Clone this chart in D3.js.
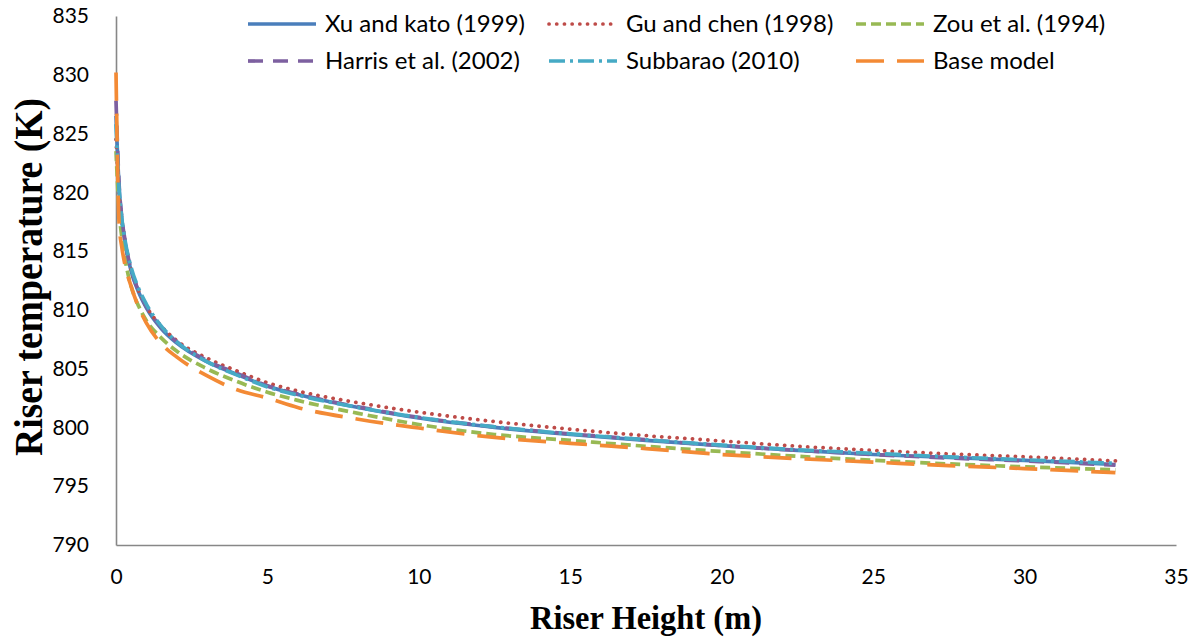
<!DOCTYPE html>
<html>
<head>
<meta charset="utf-8">
<script src="https://cdn.jsdelivr.net/npm/d3@7"></script>
<style>
  html, body { margin: 0; padding: 0; background: #fff; }
  svg { display: block; }
</style>
</head>
<body>
<svg id="chart" width="1198" height="639"></svg>
<script>
// Riser height (m) at which every model was evaluated
const heights = [0, 0.1, 0.2, 0.3, 0.5, 0.75, 1, 1.5, 2, 3, 4, 5, 6, 8, 10, 12.5, 15, 17.5, 20, 22.5, 25, 27.5, 30, 33];

// Riser temperature (K) for each correlation
const xuKato    = [826.5, 820.5, 817.5, 815.7, 813.3, 811.5, 810.2, 808.4, 807.2, 805.6, 804.5, 803.5, 802.8, 801.7, 800.8, 800.0, 799.4, 798.9, 798.45, 798.05, 797.7, 797.45, 797.2, 796.85];
const guChen    = [824.5, 820.0, 817.5, 815.8, 813.4, 811.6, 810.3, 808.6, 807.4, 805.9, 804.8, 803.8, 803.1, 802.1, 801.3, 800.5, 799.85, 799.3, 798.85, 798.4, 798.05, 797.75, 797.5, 797.15];
const zou       = [823.5, 818.5, 816.0, 814.3, 812.0, 810.3, 809.1, 807.6, 806.5, 805.0, 803.9, 803.0, 802.3, 801.2, 800.25, 799.4, 798.9, 798.4, 797.95, 797.55, 797.2, 796.9, 796.65, 796.4];
const harris    = [827.8, 820.8, 817.7, 815.9, 813.4, 811.6, 810.3, 808.5, 807.3, 805.7, 804.6, 803.55, 802.85, 801.75, 800.85, 800.05, 799.45, 798.95, 798.45, 798.05, 797.7, 797.4, 797.15, 796.8];
const subbarao  = [825.8, 820.3, 817.6, 815.9, 813.6, 811.8, 810.5, 808.6, 807.3, 805.6, 804.45, 803.45, 802.75, 801.7, 800.85, 800.05, 799.45, 798.95, 798.5, 798.1, 797.8, 797.5, 797.25, 796.95];
const baseModel = [830.2, 817.5, 815.2, 813.8, 812.0, 810.2, 808.9, 807.1, 806.0, 804.4, 803.2, 802.5, 801.7, 800.7, 799.95, 799.15, 798.65, 798.2, 797.7, 797.35, 797.05, 796.75, 796.5, 796.15];

const seriesNames = ["Xu and kato (1999)", "Gu and chen (1998)", "Zou et al. (1994)", "Harris et al. (2002)", "Subbarao (2010)", "Base model"];

const xTicks = [0, 5, 10, 15, 20, 25, 30, 35];
const yTicks = [790, 795, 800, 805, 810, 815, 820, 825, 830, 835];

// Line styling for each series (colour, dash pattern, cap)
const styles = [
  { color: "#4A7EBB", dash: null,          cap: "butt"  },
  { color: "#BE4B48", dash: "0.1 7.6",     cap: "round" },
  { color: "#98B954", dash: "10 5",        cap: "butt"  },
  { color: "#7D60A0", dash: "15 10",       cap: "butt"  },
  { color: "#46AAC5", dash: "16 5 3 5",    cap: "butt"  },
  { color: "#F38A35", dash: "28 13",       cap: "butt"  }
];

const seriesValues = [xuKato, guChen, zou, harris, subbarao, baseModel];

const svg = d3.select("#chart");
const x = d3.scaleLinear().domain([0, 35]).range([116, 1176]);
const y = d3.scaleLinear().domain([790, 835]).range([545, 16]);

const tickFont = "Lato, 'Open Sans', sans-serif";
const titleFont = "'Liberation Serif', 'Times New Roman', serif";

// Axes
const yAxis = svg.append("g")
  .attr("transform", `translate(${x(0)},0)`)
  .call(d3.axisLeft(y).tickValues(yTicks).tickSize(0).tickPadding(27).tickFormat(d3.format("d")));
const xAxis = svg.append("g")
  .attr("transform", `translate(0,${y(790)})`)
  .call(d3.axisBottom(x).tickValues(xTicks).tickSize(0).tickPadding(24).tickFormat(d3.format("d")));

[xAxis, yAxis].forEach(g => {
  g.select(".domain").attr("stroke", "#878787").attr("stroke-width", 1.6);
  g.selectAll("text")
    .attr("fill", "#000")
    .style("font-family", tickFont)
    .style("font-size", "21px");
});

// Series lines
const line = d3.line()
  .x((d, i) => x(heights[i]))
  .y(d => y(d))
  .curve(d3.curveMonotoneX);

seriesValues.forEach((vals, i) => {
  const s = styles[i];
  svg.append("path")
    .datum(vals)
    .attr("d", line)
    .attr("fill", "none")
    .attr("stroke", s.color)
    .attr("stroke-width", s.cap === "round" ? 3.8 : 3.7)
    .attr("stroke-dasharray", s.dash)
    .attr("stroke-linecap", s.cap)
    .attr("stroke-linejoin", "round");
});

// Legend: two rows of three entries
const legendCols = [248, 549, 856];
const legendRows = [24, 61];
const legend = svg.append("g");
seriesNames.forEach((name, i) => {
  const s = styles[i];
  const lx = legendCols[i % 3];
  const ly = legendRows[Math.floor(i / 3)];
  legend.append("line")
    .attr("x1", lx).attr("x2", lx + 68)
    .attr("y1", ly).attr("y2", ly)
    .attr("stroke", s.color)
    .attr("stroke-width", 3.7)
    .attr("stroke-dasharray", s.dash)
    .attr("stroke-linecap", s.cap);
  legend.append("text")
    .attr("x", lx + 77)
    .attr("y", ly)
    .attr("dy", "0.35em")
    .style("font-family", tickFont)
    .style("font-size", "24px")
    .attr("fill", "#000")
    .text(name);
});

// Axis titles
svg.append("text")
  .attr("x", 646).attr("y", 629)
  .attr("text-anchor", "middle")
  .attr("textLength", 232)
  .attr("lengthAdjust", "spacingAndGlyphs")
  .style("font-family", titleFont)
  .style("font-weight", "bold")
  .style("font-size", "33px")
  .text("Riser Height (m)");

svg.append("text")
  .attr("transform", "translate(42,277) rotate(-90)")
  .attr("text-anchor", "middle")
  .attr("textLength", 358)
  .attr("lengthAdjust", "spacingAndGlyphs")
  .style("font-family", titleFont)
  .style("font-weight", "bold")
  .style("font-size", "40px")
  .text("Riser temperature (K)");
</script>
</body>
</html>
